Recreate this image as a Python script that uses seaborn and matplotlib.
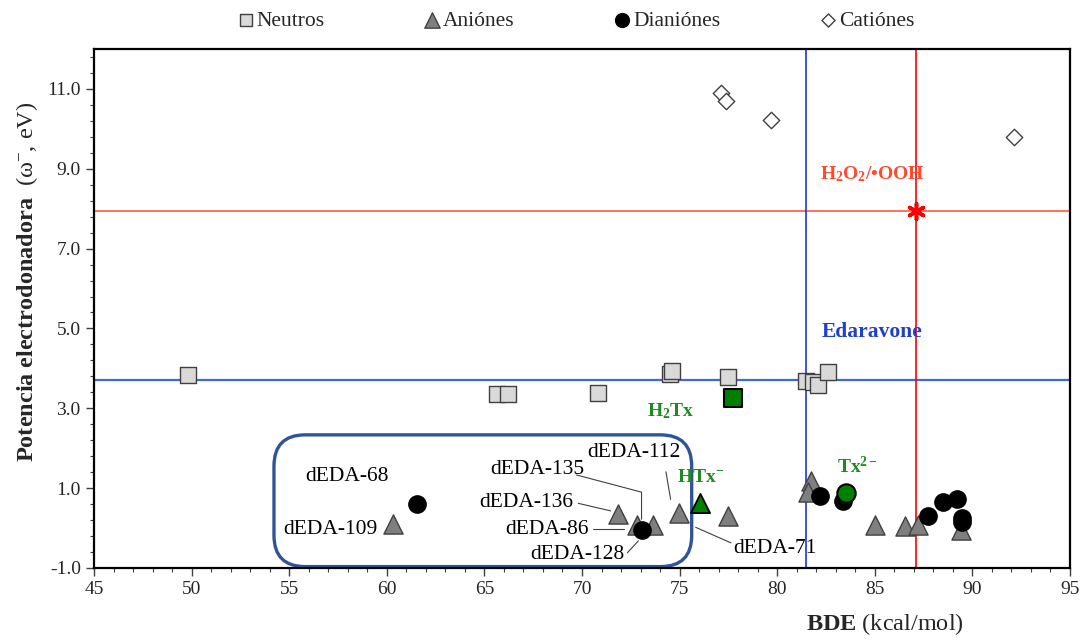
import numpy as np
import matplotlib
matplotlib.use("Agg")
import matplotlib.pyplot as plt
import seaborn as sns
from matplotlib.patches import FancyBboxPatch
from matplotlib.ticker import FixedLocator, FormatStrFormatter

# ---------------- data ----------------
neutros_x = [49.8, 65.65, 66.2, 70.8, 74.5, 74.6, 77.5, 81.45, 81.85, 82.1, 82.6]
neutros_y = [3.83, 3.36, 3.37, 3.38, 3.86, 3.93, 3.78, 3.69, 3.67, 3.58, 3.91]

aniones_x = [60.33, 71.83, 72.80, 73.62, 74.98, 77.46, 81.72, 81.59, 85.01, 86.55, 87.23, 89.42]
aniones_y = [0.10, 0.35, 0.08, 0.08, 0.37, 0.31, 1.19, 0.91, 0.08, 0.06, 0.08, -0.05]

dianiones_x = [61.53, 73.06, 82.17, 83.35, 87.71, 88.51, 89.23, 89.45, 89.45]
dianiones_y = [0.60, -0.06, 0.81, 0.69, 0.30, 0.65, 0.72, 0.25, 0.14]

cationes_x = [77.10, 77.36, 79.70, 92.11]
cationes_y = [10.91, 10.69, 10.23, 9.80]

# Trolox-like species (green)
h2tx = (77.73, 3.26)
htx = (76.03, 0.62)
tx2 = (83.51, 0.89)

# references
edaravone_bde, edaravone_w = 81.5, 3.72
h2o2_bde, h2o2_w = 87.1, 7.95

legend_labels = ["Neutros", "Aniónes", "Dianiónes", "Catiónes"]

# ---------------- style ----------------
sns.set_style("ticks")
plt.rcParams["font.family"] = ["Liberation Serif", "DejaVu Serif"]
plt.rcParams["mathtext.fontset"] = "custom"
plt.rcParams["mathtext.rm"] = "Liberation Serif"
plt.rcParams["mathtext.bf"] = "Liberation Serif:bold"
plt.rcParams["mathtext.it"] = "Liberation Serif:italic"
plt.rcParams["axes.unicode_minus"] = False

fig = plt.figure(figsize=(10.81, 6.40), dpi=100)
ax = fig.add_axes([94 / 1081, 1 - 568 / 640, 976 / 1081, 519 / 640])

# reference lines
ax.axhline(h2o2_w, color="#FF4A2E", lw=1.1, zorder=1)
ax.axhline(edaravone_w, color="#3D6AD6", lw=1.6, zorder=1)
ax.axvline(edaravone_bde, color="#1A35E0", lw=1.2, zorder=1)
ax.axvline(h2o2_bde, color="#FF0000", lw=1.2, zorder=1)

# rounded box
box = FancyBboxPatch((54.22, -0.965), 21.4, 3.30,
                     boxstyle="round,pad=0,rounding_size=1.6",
                     mutation_aspect=0.49, edgecolor="#2F5597",
                     facecolor="none", lw=2.4, zorder=2)
ax.add_patch(box)

# scatter groups
sns.scatterplot(x=neutros_x, y=neutros_y, marker="s", s=130, color="#D9D9D9",
                edgecolor="#404040", linewidth=1.0, ax=ax, label=legend_labels[0], zorder=3)
sns.scatterplot(x=aniones_x, y=aniones_y, marker="^", s=190, color="#7F7F7F",
                edgecolor="#404040", linewidth=1.0, ax=ax, label=legend_labels[1], zorder=3)
sns.scatterplot(x=dianiones_x, y=dianiones_y, marker="o", s=155, color="black",
                edgecolor="black", linewidth=1.0, ax=ax, label=legend_labels[2], zorder=3)
sns.scatterplot(x=cationes_x, y=cationes_y, marker="D", s=70, color="white",
                edgecolor="#404040", linewidth=1.0, ax=ax, label=legend_labels[3], zorder=3)

# green species
sns.scatterplot(x=[h2tx[0]], y=[h2tx[1]], marker="s", s=150, color="#008000",
                edgecolor="black", linewidth=1.5, ax=ax, label="_nolegend_", zorder=4)
sns.scatterplot(x=[htx[0]], y=[htx[1]], marker="^", s=190, color="#008000",
                edgecolor="black", linewidth=1.3, ax=ax, label="_nolegend_", zorder=4)
sns.scatterplot(x=[tx2[0]], y=[tx2[1]], marker="o", s=175, color="#008000",
                edgecolor="black", linewidth=1.5, ax=ax, label="_nolegend_", zorder=4)

# H2O2 point
ax.scatter([h2o2_bde], [h2o2_w], marker=(6, 2, 0), s=130, color="#FF0000",
           linewidths=2.6, zorder=5)

# text annotations
ax.text(84.85, 8.87, r"$\mathbf{H_2O_2/•OOH}$", color="#FF4A2E",
        fontsize=14, ha="center", va="center")
ax.text(84.86, 4.92, "Edaravone", color="#1F3FCC", fontsize=15.5,
        fontweight="bold", ha="center", va="center")
ax.text(74.55, 2.93, r"$\mathbf{H_2Tx}$", color="#1E8B1E", fontsize=14,
        ha="center", va="center")
ax.text(76.05, 1.27, r"$\mathbf{HTx^{-}}$", color="#1E8B1E", fontsize=14,
        ha="center", va="center")
ax.text(84.10, 1.55, r"$\mathbf{Tx^{2-}}$", color="#1E8B1E", fontsize=14,
        ha="center", va="center")

labels = [
    ("dEDA-68", 57.97, 1.30),
    ("dEDA-109", 57.12, -0.03),
    ("dEDA-135", 67.72, 1.47),
    ("dEDA-112", 72.64, 1.89),
    ("dEDA-136", 67.16, 0.64),
    ("dEDA-86", 68.19, -0.03),
    ("dEDA-128", 69.74, -0.65),
    ("dEDA-71", 79.89, -0.52),
]
for t, lx, ly in labels:
    ax.text(lx, ly, t, fontsize=15.5, ha="center", va="center", color="black", zorder=6)

leaders = [
    ([69.72, 73.05, 73.05], [1.33, 0.90, 0.22]),
    ([74.30, 74.54], [1.41, 0.72]),
    ([69.81, 71.47], [0.62, 0.43]),
    ([70.58, 72.15], [-0.02, -0.02]),
    ([72.32, 72.89], [-0.62, -0.32]),
    ([75.82, 77.63], [0.02, -0.37]),
]
for xs, ys in leaders:
    ax.plot(xs, ys, color="#404040", lw=0.8, zorder=2)

# axes
ax.set_xlim(45, 95)
ax.set_ylim(-1, 12)
ax.xaxis.set_major_locator(FixedLocator(np.arange(45, 95.1, 5)))
ax.xaxis.set_minor_locator(FixedLocator(np.arange(45, 95.1, 1)))
ax.yaxis.set_major_locator(FixedLocator(np.arange(-1, 11.1, 2)))
ax.yaxis.set_minor_locator(FixedLocator(np.arange(-1, 12.01, 0.4)))
ax.xaxis.set_major_formatter(FormatStrFormatter("%d"))
ax.yaxis.set_major_formatter(FormatStrFormatter("%.1f"))
ax.tick_params(axis="both", which="major", direction="out", length=6, width=1,
               labelsize=14, color="#404040")
ax.tick_params(axis="both", which="minor", direction="out", length=3, width=0.8,
               color="#404040")
for sp in ax.spines.values():
    sp.set_visible(True)
    sp.set_color("black")
    sp.set_linewidth(1.6)

ax.set_xlabel(r"$\mathbf{BDE}$ (kcal/mol)", fontsize=17.5)
ax.xaxis.set_label_coords(0.81, -0.083)
ax.set_ylabel(r"$\mathbf{Potencia\ electrodonadora}$  (ω$^{-}$, eV)", fontsize=17.5)
ax.yaxis.set_label_coords(-0.055, 0.551)

leg = ax.legend(loc="center", bbox_to_anchor=(0.493, 1.054), ncol=4, frameon=False,
                fontsize=15.5, handletextpad=0.05, columnspacing=4.55,
                handlelength=0.9, markerscale=0.8, borderaxespad=0)

fig.savefig("out.png", dpi=100)
